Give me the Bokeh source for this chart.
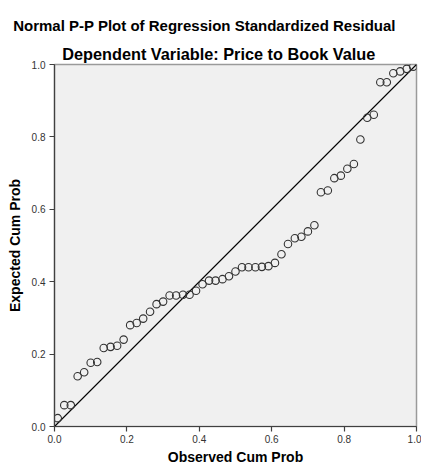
from bokeh.plotting import figure
from bokeh.models import Title, FixedTicker, PrintfTickFormatter, Range1d, ColumnDataSource
from bokeh.embed import file_html
from bokeh.resources import INLINE

# Data
observed_cum_prob = [0.009, 0.027, 0.045, 0.064, 0.082, 0.100, 0.118, 0.136, 0.155, 0.173,
                     0.191, 0.209, 0.227, 0.245, 0.264, 0.282, 0.300, 0.318, 0.336, 0.355,
                     0.373, 0.391, 0.409, 0.427, 0.445, 0.464, 0.482, 0.500, 0.518, 0.536,
                     0.555, 0.573, 0.591, 0.609, 0.627, 0.645, 0.664, 0.682, 0.700, 0.718,
                     0.736, 0.755, 0.773, 0.791, 0.809, 0.827, 0.845, 0.864, 0.882, 0.900,
                     0.918, 0.936, 0.955, 0.973, 0.991]
expected_cum_prob = [0.023, 0.059, 0.059, 0.139, 0.150, 0.176, 0.178, 0.217, 0.220, 0.223,
                     0.240, 0.280, 0.286, 0.298, 0.317, 0.338, 0.345, 0.362, 0.362, 0.364,
                     0.364, 0.375, 0.393, 0.403, 0.403, 0.407, 0.415, 0.428, 0.440, 0.440,
                     0.440, 0.441, 0.443, 0.452, 0.476, 0.504, 0.520, 0.524, 0.539, 0.556,
                     0.647, 0.652, 0.686, 0.693, 0.712, 0.725, 0.793, 0.853, 0.861, 0.951,
                     0.951, 0.976, 0.981, 0.988, 0.994]
diagonal = [0.0, 1.0]
tick_values = [0.0, 0.2, 0.4, 0.6, 0.8, 1.0]

title_text = "Normal P-P Plot of Regression Standardized Residual"
subtitle_text = "Dependent Variable: Price to Book Value"
x_label = "Observed Cum Prob"
y_label = "Expected Cum Prob"

FONT = "Liberation Sans"

p = figure(frame_width=362, frame_height=362,
           x_range=Range1d(0, 1), y_range=Range1d(0, 1),
           output_backend="svg", toolbar_location=None,
           min_border_left=54, min_border_top=64, min_border_right=5, min_border_bottom=38)
p.title.visible = False
p.background_fill_color = "#f0f0f0"
p.border_fill_color = "white"
p.outline_line_color = "#9a9a9a"
p.outline_line_width = 1.5
p.xgrid.visible = False
p.ygrid.visible = False

for ax in (p.xaxis[0], p.yaxis[0]):
    ax.ticker = FixedTicker(ticks=tick_values)
    ax.formatter = PrintfTickFormatter(format="%.1f")
    ax.axis_line_color = "#404040"
    ax.axis_line_width = 1.2
    ax.major_tick_line_color = "#404040"
    ax.major_tick_line_width = 1.2
    ax.major_tick_out = 5
    ax.major_tick_in = 0
    ax.minor_tick_line_color = None
    ax.major_label_text_font = FONT
    ax.major_label_text_font_size = "10px"
    ax.major_label_text_color = "#333333"
    ax.axis_label_text_font = FONT
    ax.axis_label_text_font_style = "bold"
    ax.axis_label_text_font_size = "14px"
    ax.axis_label_text_color = "black"
p.xaxis[0].major_label_standoff = 3
p.yaxis[0].major_label_standoff = 4
p.xaxis[0].axis_label = x_label
p.yaxis[0].axis_label = y_label
p.xaxis[0].axis_label_standoff = 3
p.yaxis[0].axis_label_standoff = 6

p.line(diagonal, diagonal, line_color="black", line_width=1.1)

src = ColumnDataSource(dict(x=observed_cum_prob, y=expected_cum_prob))
p.scatter("x", "y", source=src, marker="circle", size=7.5, fill_color=None,
          line_color="#333333", line_width=1.1)

# Titles (subtitle added first so it sits nearest the frame)
p.add_layout(Title(text=subtitle_text, align="left", offset=7.7, standoff=4,
                   text_font=FONT, text_font_style="bold", text_font_size="16.3px",
                   text_color="black"), "above")
p.add_layout(Title(text=title_text, align="left", offset=-41.3, standoff=14,
                   text_font=FONT, text_font_style="bold", text_font_size="15px",
                   text_color="black"), "above")

open("out.html", "w").write(file_html(p, INLINE))
